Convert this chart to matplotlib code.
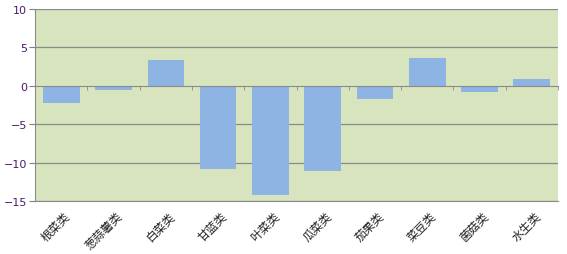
import matplotlib.pyplot as plt
import numpy as np

categories = ["根菜类", "葱蒜薯类", "白菜类", "甘蓝类", "叶菜类",
              "瓜菜类", "茄果类", "菜豆类", "菌菇类", "水生类"]
values = [-2.2, -0.6, 3.4, -10.8, -14.2, -11.1, -1.7, 3.6, -0.8, 0.9]
y_ticks = [-15, -10, -5, 0, 5, 10]

plt.rcParams['font.family'] = ['Noto Sans CJK SC', 'DejaVu Sans']

fig = plt.figure(figsize=(5.67, 2.55), dpi=100)
ax = fig.add_axes([0.062, 0.208, 0.922, 0.753])
ax.set_facecolor("#d7e4bd")

x = np.arange(len(categories))
ax.bar(x, values, width=0.7, color="#8eb4e3", zorder=3)

ax.set_xlim(-0.5, len(categories) - 0.5)
ax.set_ylim(-15, 10)
ax.set_yticks(y_ticks)
ax.set_yticklabels([str(v).replace("-", "\u2212") for v in y_ticks],
                   family="DejaVu Sans", fontsize=8, color="#4b1a6b")
ax.tick_params(axis="y", length=4, color="#808080", pad=2)
for v in y_ticks:
    if v != 0:
        ax.axhline(v, color="#8a8a8a", lw=0.9, zorder=1)

# category axis crosses at zero
ax.spines["bottom"].set_position(("data", 0))
ax.spines["bottom"].set_color("#8a8a8a")
ax.spines["bottom"].set_zorder(4)
ax.set_xticks(x)
ax.set_xticklabels([])
ax.tick_params(axis="x", which="major", length=0)
ax.set_xticks(np.arange(len(categories) + 1) - 0.5, minor=True)
ax.tick_params(axis="x", which="minor", length=3, color="#8a8a8a", direction="out")
ax.spines["left"].set_color("#8a8a8a")
ax.spines["top"].set_visible(False)
ax.spines["right"].set_visible(False)

sec = ax.secondary_xaxis("bottom")
sec.set_xticks(x + 0.05)
sec.set_xticklabels(categories, rotation=45, ha="right", rotation_mode="anchor",
                    fontsize=8.5, color="#222222")
sec.tick_params(length=0, pad=6)
sec.spines["bottom"].set_color("#8a8a8a")

fig.savefig("out.png", dpi=100)
